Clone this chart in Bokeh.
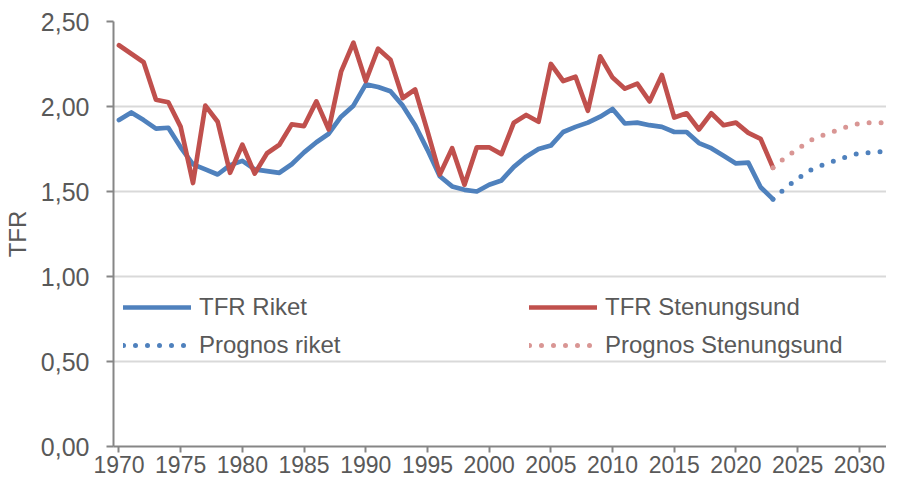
from bokeh.plotting import figure
from bokeh.models import (Legend, LegendItem, FixedTicker, Range1d,
                          CustomJSTickFormatter)
from bokeh.embed import file_html
from bokeh.resources import INLINE

# ---- data ----
years = list(range(1970, 2024))
tfr_riket = [1.92, 1.965, 1.92, 1.87, 1.875, 1.76, 1.66, 1.63, 1.60, 1.655,
             1.68, 1.63, 1.62, 1.61, 1.66, 1.73, 1.79, 1.84, 1.94, 2.005,
             2.13, 2.115, 2.09, 2.005, 1.89, 1.745, 1.59, 1.53, 1.51, 1.50,
             1.54, 1.565, 1.645, 1.705, 1.75, 1.77, 1.85, 1.88, 1.905, 1.94,
             1.985, 1.90, 1.905, 1.89, 1.88, 1.85, 1.85, 1.785, 1.755, 1.71,
             1.665, 1.67, 1.525, 1.455]
tfr_stenungsund = [2.36, 2.31, 2.26, 2.04, 2.025, 1.88, 1.55, 2.005, 1.91, 1.61,
                   1.775, 1.605, 1.725, 1.775, 1.895, 1.885, 2.03, 1.865, 2.205, 2.375,
                   2.15, 2.34, 2.275, 2.05, 2.10, 1.855, 1.60, 1.755, 1.54, 1.76,
                   1.76, 1.72, 1.905, 1.95, 1.91, 2.25, 2.15, 2.175, 1.975, 2.295,
                   2.17, 2.105, 2.135, 2.03, 2.185, 1.935, 1.96, 1.865, 1.96, 1.89,
                   1.905, 1.845, 1.81, 1.64]
prog_years = list(range(2023, 2034))
prognos_riket = [1.455, 1.52, 1.575, 1.625, 1.655, 1.68, 1.705, 1.725, 1.73, 1.735, 1.735]
prognos_stenungsund = [1.64, 1.70, 1.75, 1.80, 1.83, 1.855, 1.88, 1.90, 1.905, 1.905, 1.905]

y_ticks = [0, 0.5, 1.0, 1.5, 2.0, 2.5]
x_ticks = list(range(1970, 2031, 5))

labels = ["TFR Riket", "TFR Stenungsund", "Prognos riket", "Prognos Stenungsund"]

BLUE = "#4F81BD"
RED = "#C0504D"
PINK = "#D99694"
TEXT = "#595959"
AXIS = "#868686"
FONT = "Liberation Sans"

p = figure(width=886, height=480, output_backend="svg", toolbar_location=None,
           x_range=Range1d(1969.557, 2032.2), y_range=Range1d(0, 2.5),
           min_border_left=108, min_border_right=0, min_border_top=21,
           min_border_bottom=34)
p.title.visible = False
p.outline_line_color = None
p.background_fill_color = "white"
p.border_fill_color = "white"

p.xgrid.visible = False
p.ygrid.grid_line_color = "#D9D9D9"
p.ygrid.grid_line_width = 2

r1 = p.line(years, tfr_riket, line_color=BLUE, line_width=4.7,
            line_join="round", line_cap="round")
r2 = p.line(years, tfr_stenungsund, line_color=RED, line_width=4.7,
            line_join="round", line_cap="round")
r3 = p.line(prog_years, prognos_riket, line_color=BLUE, line_width=5,
            line_dash="0 12", line_cap="round")
r4 = p.line(prog_years, prognos_stenungsund, line_color=PINK, line_width=5,
            line_dash="0 12", line_cap="round")

xa = p.xaxis[0]
ya = p.yaxis[0]
for ax in (xa, ya):
    ax.axis_line_color = AXIS
    ax.axis_line_width = 2
    ax.major_tick_line_color = AXIS
    ax.major_tick_line_width = 2
    ax.major_tick_in = 0
    ax.minor_tick_in = 0
    ax.minor_tick_out = 0
    ax.major_label_text_font = FONT
    ax.major_label_text_color = TEXT

xa.ticker = FixedTicker(ticks=x_ticks)
xa.major_tick_out = 6
xa.major_label_standoff = 3
xa.major_label_text_font_size = "23px"

ya.ticker = FixedTicker(ticks=y_ticks)
ya.formatter = CustomJSTickFormatter(code="return tick.toFixed(2).replace('.', ',');")
ya.major_tick_out = 7
ya.major_label_standoff = 17
ya.major_label_text_font_size = "25px"
ya.axis_label = "TFR"
ya.axis_label_text_font = FONT
ya.axis_label_text_font_size = "24px"
ya.axis_label_text_font_style = "normal"
ya.axis_label_text_color = TEXT
ya.axis_label_standoff = 7

def make_legend(items, loc):
    return Legend(items=items, location=loc, orientation="vertical",
                  label_text_font=FONT, label_text_font_size="24px",
                  label_text_color=TEXT, glyph_width=68, glyph_height=24,
                  label_height=24, label_standoff=8, spacing=10, padding=0,
                  margin=0, border_line_color=None, background_fill_alpha=0)

leg1 = make_legend([LegendItem(label=labels[0], renderers=[r1]),
                    LegendItem(label=labels[2], renderers=[r3])], (10, 87))
leg2 = make_legend([LegendItem(label=labels[1], renderers=[r2]),
                    LegendItem(label=labels[3], renderers=[r4])], (416, 87))
p.add_layout(leg1, "center")
p.add_layout(leg2, "center")

open("out.html", "w").write(file_html(p, INLINE))
